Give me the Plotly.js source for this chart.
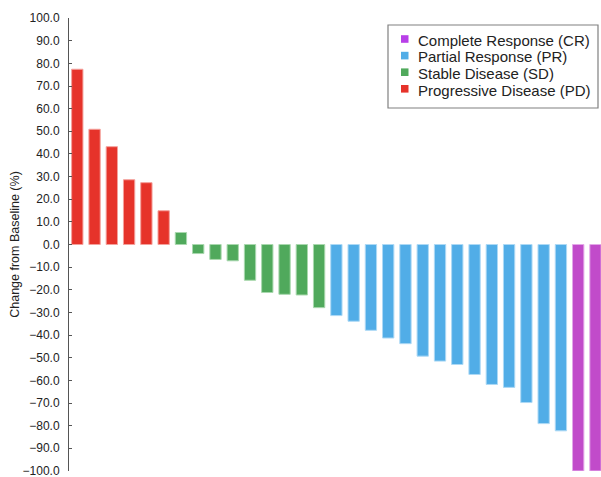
<!DOCTYPE html>
<html>
<head>
<meta charset="utf-8">
<script src="https://cdn.plot.ly/plotly-3.0.1.min.js"></script>
<style>
  html, body { margin: 0; padding: 0; background: #fff; }
  #chart { width: 601px; height: 477px; }
</style>
</head>
<body>
<div id="chart"></div>
<script>
// Patients, ordered as in the waterfall
const pdPatients = ["P01", "P02", "P03", "P04", "P05", "P06"];
const sdPatients = ["P07", "P08", "P09", "P10", "P11", "P12", "P13", "P14", "P15"];
const prPatients = ["P16", "P17", "P18", "P19", "P20", "P21", "P22", "P23", "P24", "P25", "P26", "P27", "P28", "P29"];
const crPatients = ["P30", "P31"];

// Best change from baseline (%)
const pdValues = [77.4, 50.9, 43.2, 28.6, 27.3, 14.9];
const sdValues = [5.3, -4.0, -6.6, -7.2, -15.8, -21.2, -22.0, -22.3, -27.9];
const prValues = [-31.4, -33.9, -37.9, -41.3, -43.8, -49.3, -51.5, -53.0, -57.4, -61.8, -63.1, -69.8, -79.1, -82.3];
const crValues = [-100.0, -100.0];

const groupNames = ["Progressive Disease (PD)", "Stable Disease (SD)", "Partial Response (PR)", "Complete Response (CR)"];

const yTickValues = [100, 90, 80, 70, 60, 50, 40, 30, 20, 10, 0, -10, -20, -30, -40, -50, -60, -70, -80, -90, -100];

const colors = ["#E6332A", "#50A95C", "#51ADE7", "#C14BCA"];
const legendColors = ["#E6332A", "#50A95C", "#51ADE7", "#B83FE8"];
const lineColors = ["#F4A19C", "#A9D8AE", "#ADD9F5", "#E3A8E8"];

const xs = [pdPatients, sdPatients, prPatients, crPatients];
const ys = [pdValues, sdValues, prValues, crValues];

const traces = xs.map((x, i) => ({
  type: "bar",
  x: x,
  y: ys[i],
  name: groupNames[i],
  showlegend: false,
  marker: { color: colors[i], line: { color: lineColors[i], width: 1 } },
  hoverinfo: "x+y"
}));

// Plot area in pixels (for placing the legend box in paper coordinates)
const W = 601, H = 477;
const M = { l: 69, r: 0, t: 18, b: 6 };
const pw = W - M.l - M.r, ph = H - M.t - M.b;
const px = v => (v - M.l) / pw;
const py = v => (H - M.b - v) / ph;

// Legend box drawn as shapes + annotations (reference legend is compact)
const shapes = [{
  type: "rect", xref: "paper", yref: "paper",
  x0: px(388), x1: px(598), y0: py(108), y1: py(25),
  line: { color: "#808080", width: 1.2 }, fillcolor: "#ffffff", layer: "above"
}];
const annotations = [];
const rowTop = 39, rowStep = 16.6;
const order = [3, 2, 1, 0];
order.forEach((gi, r) => {
  const cy = rowTop + r * rowStep;
  shapes.push({
    type: "rect", xref: "paper", yref: "paper",
    x0: px(401), x1: px(408.5), y0: py(cy + 3.8), y1: py(cy - 3.8),
    line: { width: 0 }, fillcolor: legendColors[gi], layer: "above"
  });
  annotations.push({
    xref: "paper", yref: "paper",
    x: px(416), y: py(cy + 1.2),
    xanchor: "left", yanchor: "middle",
    text: groupNames[gi], showarrow: false,
    font: { size: 15, color: "#222222" }
  });
});

const layout = {
  width: W,
  height: H,
  margin: { l: M.l, r: M.r, t: M.t, b: M.b, pad: 0 },
  paper_bgcolor: "#ffffff",
  plot_bgcolor: "#ffffff",
  barmode: "overlay",
  bargap: 0.345,
  font: { family: "Liberation Sans, Arial, Helvetica, sans-serif", color: "#222222", size: 12 },
  showlegend: false,
  shapes: shapes,
  annotations: annotations,
  xaxis: {
    type: "category",
    range: [-0.48, 30.32],
    showticklabels: false,
    showline: false,
    showgrid: false,
    zeroline: false,
    ticks: "",
    fixedrange: true
  },
  yaxis: {
    range: [-100.03, 100.03],
    tickvals: yTickValues,
    tickformat: ".1f",
    ticks: "inside",
    ticklen: 3,
    tickcolor: "#555555",
    showline: true,
    linecolor: "#555555",
    linewidth: 1,
    showgrid: false,
    zeroline: false,
    ticklabeloverflow: "allow",
    tickfont: { size: 12, color: "#222222" },
    ticklabelstandoff: 6,
    title: { text: "Change from Baseline (%)", font: { size: 12.5, color: "#222222" }, standoff: 0 }
  }
};

Plotly.newPlot("chart", traces, layout, { displayModeBar: false, staticPlot: true });
</script>
</body>
</html>
